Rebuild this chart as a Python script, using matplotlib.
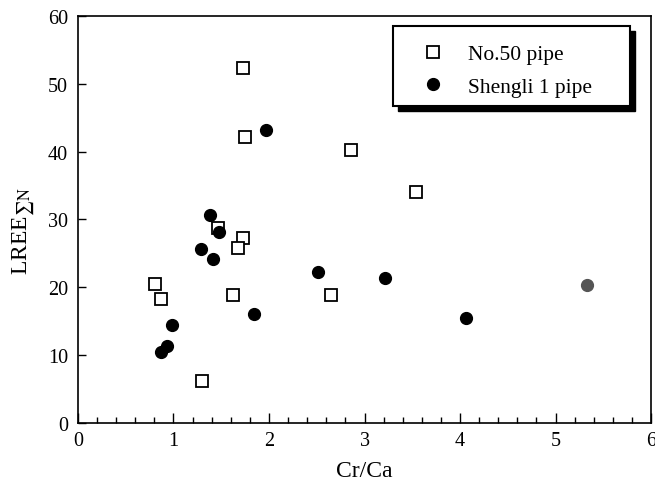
import matplotlib
matplotlib.use("Agg")
import matplotlib.pyplot as plt
from matplotlib.patches import Rectangle
from matplotlib.ticker import MultipleLocator

plt.rcParams['font.family'] = ['Liberation Serif', 'DejaVu Serif']
plt.rcParams['mathtext.fontset'] = 'stix'

# No.50 pipe (open squares)
no50_x = [1.73, 1.75, 2.86, 3.54, 2.65, 1.47, 1.73, 1.68, 0.81, 0.87, 1.62, 1.30]
no50_y = [52.4, 42.1, 40.3, 34.0, 18.9, 28.7, 27.2, 25.8, 20.5, 18.3, 18.8, 6.2]

# Shengli 1 pipe (filled circles)
sheng_x = [1.97, 1.38, 1.48, 1.29, 1.41, 1.84, 0.98, 0.93, 0.87, 2.51, 3.21, 4.06]
sheng_y = [43.2, 30.7, 28.2, 25.6, 24.1, 16.0, 14.5, 11.3, 10.4, 22.3, 21.4, 15.4]

# grey printed point
grey_x = [5.33]
grey_y = [20.4]

fig = plt.figure(figsize=(6.55, 4.85), dpi=100)
ax = fig.add_axes([0.119, 0.126, 0.875, 0.839])

ax.plot(no50_x, no50_y, 's', ms=8, mfc='white', mec='black', mew=1.3,
        ls='none', label='No.50 pipe', zorder=3)
ax.plot(sheng_x, sheng_y, 'o', ms=8.5, color='black', ls='none',
        label='Shengli 1 pipe', zorder=3)
ax.plot(grey_x, grey_y, 'o', ms=8.5, color='#555555', ls='none', zorder=3)

ax.set_xlim(0, 6)
ax.set_ylim(0, 60)
ax.xaxis.set_major_locator(MultipleLocator(1))
ax.xaxis.set_minor_locator(MultipleLocator(0.2))
ax.yaxis.set_major_locator(MultipleLocator(10))
ax.tick_params(axis='both', which='both', direction='in', top=False, right=False,
               labelsize=14.5, width=1)
ax.tick_params(axis='x', which='major', length=7, pad=6)
ax.tick_params(axis='x', which='minor', length=4)
ax.tick_params(axis='y', which='major', length=6, pad=7)
for s in ax.spines.values():
    s.set_linewidth(1.2)

ax.set_xlabel('Cr/Ca', fontsize=17, labelpad=7)
ax.set_ylabel(r'LREE$_{\sum \mathrm{N}}$', fontsize=17)
ax.yaxis.set_label_coords(-0.074, 0.474)

# legend box with heavy shadow
x0, y0, w, h = 0.55, 0.779, 0.413, 0.196
ax.add_patch(Rectangle((x0 + 0.009, y0 - 0.012), w, h, transform=ax.transAxes,
                       facecolor='black', edgecolor='black', zorder=4))
ax.add_patch(Rectangle((x0, y0), w, h, transform=ax.transAxes,
                       facecolor='white', edgecolor='black', lw=1.5, zorder=5))
leg = ax.legend(loc='center left', bbox_to_anchor=(0.563, 0.866),
                frameon=False, fontsize=15.5, handlelength=2.0,
                handletextpad=0.63, labelspacing=0.58, borderpad=0)
leg.set_zorder(6)

fig.savefig('out.png', dpi=100)
